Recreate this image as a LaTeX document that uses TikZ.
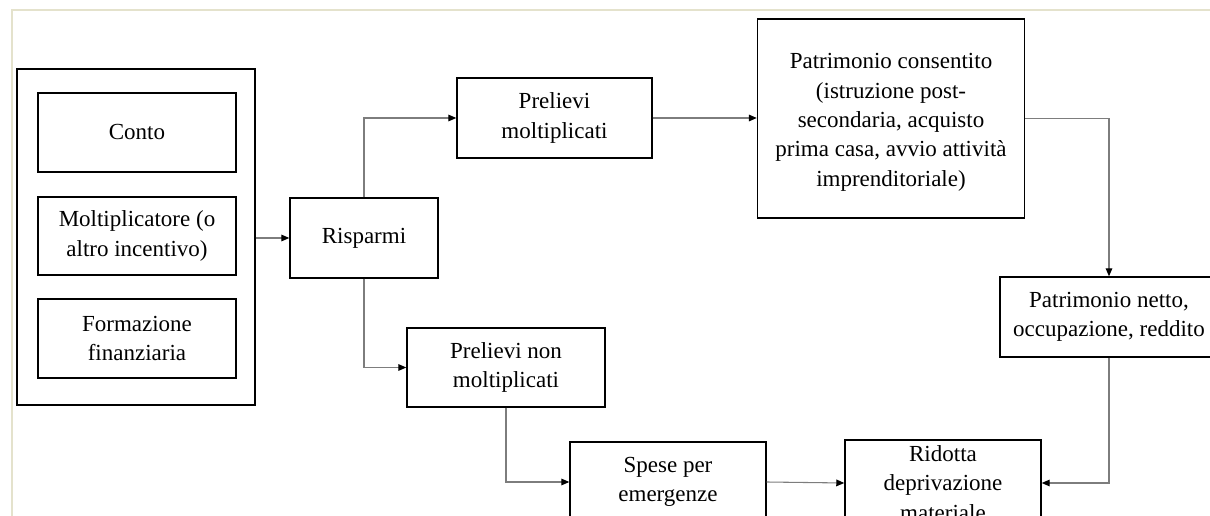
\documentclass[tikz,border=0pt]{standalone}
\usepackage{fontspec}
\setmainfont{Liberation Serif}
\usetikzlibrary{arrows.meta}
\definecolor{framecol}{RGB}{228,226,204}
\definecolor{conncol}{RGB}{125,125,125}
\tikzset{
  box/.style={draw=black, line width=1.1pt, fill=white, inner sep=0pt, align=center,
    font=\fontsize{17.25}{22}\selectfont},
  conn/.style={draw=conncol, line width=0.8pt, -{Triangle[length=6pt,width=5pt,color=black]}},
}
\begin{document}
\begin{tikzpicture}[x=0.75pt,y=-0.75pt]
\useasboundingbox (0,0) rectangle (1210,516);
\clip (0,0) rectangle (1210,516);
\draw[framecol, line width=1.5pt] (12,520) -- (12,10) -- (1212,10);

\node[box, minimum width=178.5pt, minimum height=252pt] (outer) at (136,237) {};
\node[box, minimum width=148.5pt, minimum height=59.25pt] (conto) at (137,132.5) {Conto};
\node[box, minimum width=148.5pt, minimum height=58.5pt] (molt) at (137,236) {Moltiplicatore (o\\altro incentivo)};
\node[box, minimum width=148.5pt, minimum height=59.25pt] (form) at (137,338.5) {Formazione\\finanziaria};

\node[box, minimum width=111pt, minimum height=60pt] (risp) at (364,238) {Risparmi};
\node[box, minimum width=146.25pt, minimum height=60pt] (pm) at (554.5,118) {Prelievi\\moltiplicati};
\node[box, minimum width=200.25pt, minimum height=149.25pt] (pc) at (891,118.5) {};
\node[align=center, inner sep=0pt, font=\fontsize{17.25}{22}\selectfont] (pctext) at (891,122.5)
  {Patrimonio consentito\\(istruzione post-\\secondaria, acquisto\\prima casa, avvio attività\\imprenditoriale)};
\node[box, minimum width=163.5pt, minimum height=60pt] (pn) at (1109,317) {Patrimonio netto,\\occupazione, reddito};
\node[box, minimum width=148.5pt, minimum height=59.25pt] (pnm) at (506,367.5) {Prelievi non\\moltiplicati};
\node[box, minimum width=147pt, minimum height=60pt] (spese) at (668,482) {Spese per\\emergenze};
\node[box, minimum width=147pt, minimum height=64.5pt] (rid) at (943,483) {Ridotta\\deprivazione\\materiale};

\draw[conn] (outer.east |- risp.west) -- (risp.west);
\draw[conn] (risp.north) |- (pm.west);
\draw[conn] (pm.east) -- (pm.east -| pc.west);
\draw[conn] (pc.east) -| (pn.north);
\draw[conn] (risp.south) |- (pnm.west);
\draw[conn] (pnm.south) |- (spese.west);
\draw[conn] (spese.east) -- (rid.west);
\draw[conn] (pn.south) |- (rid.east);
\end{tikzpicture}
\end{document}
